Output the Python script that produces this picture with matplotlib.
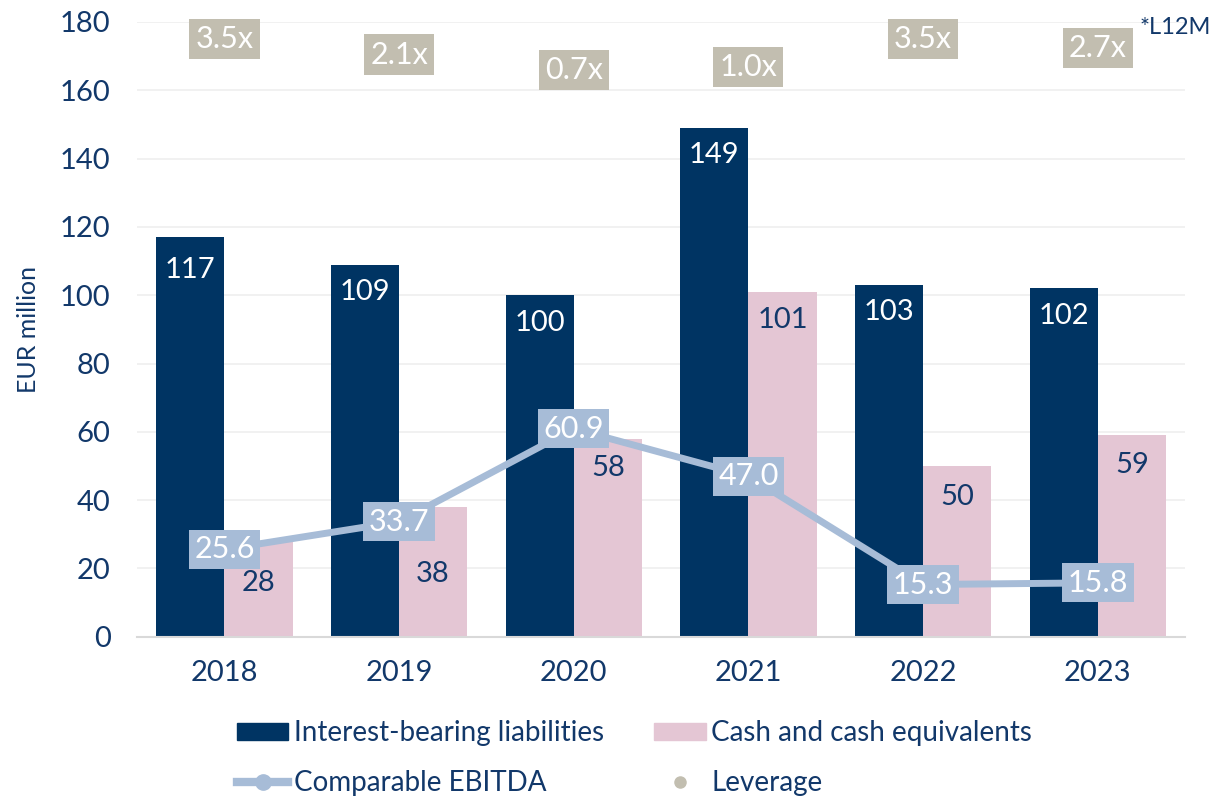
import numpy as np
import matplotlib.pyplot as plt
from matplotlib.lines import Line2D
from matplotlib.patches import Patch

years = ['2018', '2019', '2020', '2021', '2022', '2023']
liabilities = [117, 109, 100, 149, 103, 102]
cash = [28, 38, 58, 101, 50, 59]
ebitda = [25.6, 33.7, 60.9, 47.0, 15.3, 15.8]
leverage = [3.5, 2.1, 0.7, 1.0, 3.5, 2.7]

# label offsets below bar tops (some pushed down to clear the EBITDA boxes)
liab_lab_off = [9.7, 8.0, 8.0, 8.0, 8.0, 8.0]
cash_lab_off = [12.3, 19.5, 8.6, 8.3, 9.0, 8.8]

navy = '#003463'
pink = '#E4C6D4'
light_blue = '#A7BCD7'
beige = '#C2BEB0'
text_col = '#12386A'

plt.rcParams['font.family'] = ['Lato', 'DejaVu Sans']

fig = plt.figure(figsize=(12.13, 8), dpi=100)
ax = fig.add_axes([0.113, 0.204, 0.864, 0.7685])

x = np.arange(len(years))
w = 0.39
ax.bar(x - w / 2, liabilities, w, color=navy, zorder=2)
ax.bar(x + w / 2, cash, w, color=pink, zorder=2)

for i in range(len(years)):
    ax.text(x[i] - w / 2, liabilities[i] - liab_lab_off[i], str(liabilities[i]), ha='center',
            va='center', color='white', fontsize=21, zorder=3)
    ax.text(x[i] + w / 2, cash[i] - cash_lab_off[i], str(cash[i]), ha='center', va='center',
            color=text_col, fontsize=21, zorder=3)

ax.plot(x, ebitda, color=light_blue, lw=5, marker='o', ms=9, zorder=4)
for i in range(len(years)):
    ax.text(x[i], ebitda[i], f'{ebitda[i]:.1f}', ha='center', va='center', color='white',
            fontsize=22, zorder=5,
            bbox=dict(boxstyle='square,pad=0.18', fc=light_blue, ec='none'))

ax.set_xlim(-0.5, len(years) - 0.5)
ax.set_ylim(0, 180)
ax.set_yticks(range(0, 181, 20))
ax.set_xticks(x)
ax.set_xticklabels(years)
ax.tick_params(axis='both', length=0, labelsize=21, colors=text_col)
ax.tick_params(axis='x', pad=17)
ax.tick_params(axis='y', pad=19)
ax.grid(axis='y', color='#EFEFEF', lw=1.2, zorder=0)
for s in ['top', 'right', 'left']:
    ax.spines[s].set_visible(False)
ax.spines['bottom'].set_color('#D9D9D9')
ax.spines['bottom'].set_linewidth(1.5)
ax.set_ylabel('EUR million', fontsize=18, color=text_col, labelpad=14)

# leverage on a hidden secondary scale
ax2 = ax.twinx()
ax2.set_ylim(-50.35, 5.03)
ax2.axis('off')
for i in range(len(years)):
    ax2.text(x[i], leverage[i], f'{leverage[i]:.1f}x', ha='center', va='center',
             color='white', fontsize=22, zorder=5,
             bbox=dict(boxstyle='square,pad=0.2', fc=beige, ec='none'))

fig.text(0.998, 0.966, '*L12M', ha='right', va='center', fontsize=17, color=text_col)

handles = [
    Patch(color=navy),
    Line2D([], [], color=light_blue, lw=6, marker='o', ms=11),
    Patch(color=pink),
    Line2D([], [], color=beige, lw=0, marker='o', ms=8),
]
labels = ['Interest-bearing liabilities', 'Comparable EBITDA',
          'Cash and cash equivalents', 'Leverage']
fig.legend(handles, labels, ncol=2, loc='center left', bbox_to_anchor=(0.195, 0.0525),
           frameon=False, fontsize=20, labelcolor=text_col, handlelength=1.87,
           handleheight=0.6, handletextpad=0.2, columnspacing=1.78, labelspacing=0.85,
           borderpad=0, borderaxespad=0)

fig.savefig('out.png', dpi=100)
